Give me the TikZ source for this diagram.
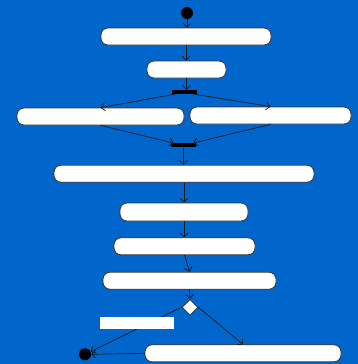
\documentclass[tikz,border=0pt]{standalone}
\usetikzlibrary{arrows.meta,shapes.geometric}
\definecolor{bgblue}{RGB}{0,102,204}
\begin{document}
\begin{tikzpicture}[x=1pt,y=-1pt,
  box/.style={draw=black!80, fill=white, rounded corners=7pt, line width=0.8pt, inner sep=0, minimum height=17pt},
  arr/.style={-{Straight Barb[length=4pt,width=8pt]}, line width=0.7pt, black!90},
  bar/.style={fill=black, inner sep=0, minimum width=25pt, minimum height=4pt},
  dot/.style={circle, fill=black, minimum size=12pt, inner sep=0}]
\fill[bgblue] (0,0) rectangle (358,364);
\useasboundingbox (0,0) rectangle (358,364);
\node[dot] (start) at (187,13) {};
\node[box, minimum width=170pt] (b1) at (186,36.5) {};
\node[box, minimum width=79pt] (b2) at (186.5,69.5) {};
\node[bar] (fork) at (184.5,92) {};
\node[box, minimum width=167pt] (b3) at (100.5,116.5) {};
\node[box, minimum width=161pt] (b4) at (270.5,115.5) {};
\node[bar] (join) at (183.5,145.3) {};
\node[box, minimum width=260pt] (b5) at (184,173.7) {};
\node[box, minimum width=128pt, minimum height=18pt] (b6) at (184,212) {};
\node[box, minimum width=141pt] (b7) at (184.5,246.3) {};
\node[box, minimum width=173pt] (b8) at (189.5,280.7) {};
\node[diamond, draw=black!80, fill=white, line width=0.8pt, minimum size=16pt, inner sep=0] (dec) at (190,307.3) {};
\node[dot] (end) at (85,354.3) {};
\node[box, minimum width=196pt] (b9) at (243,353.3) {};
\draw[arr] (start.south) -- (start.south |- b1.north);
\draw[arr] (b1.south) -- (b1.south |- b2.north);
\draw[arr] (b2.south) -- (b2.south |- fork.north);
\draw[arr] ([xshift=3pt]fork.south west) -- (b3.north);
\draw[arr] ([xshift=-3pt]fork.south east) -- (b4.north);
\draw[arr] (b3.south) -- ([xshift=3pt]join.north west);
\draw[arr] (b4.south) -- ([xshift=-3pt]join.north east);
\draw[arr] (join.south) -- (join.south |- b5.north);
\draw[arr] (b5.south) -- (b5.south |- b6.north);
\draw[arr] (b6.south) -- (b6.south |- b7.north);
\draw[arr] (b7.south) -- (b8.north);
\draw[arr] (b8.south) -- (dec.north);
\draw[arr] (dec.west) -- (end);
\draw[arr] (dec.east) -- (b9.north);
\draw[arr] (b9.west) -- (end.east);
\node[fill=white, minimum width=74pt, minimum height=12pt, inner sep=0] (lbl) at (137,323) {};
\end{tikzpicture}
\end{document}
